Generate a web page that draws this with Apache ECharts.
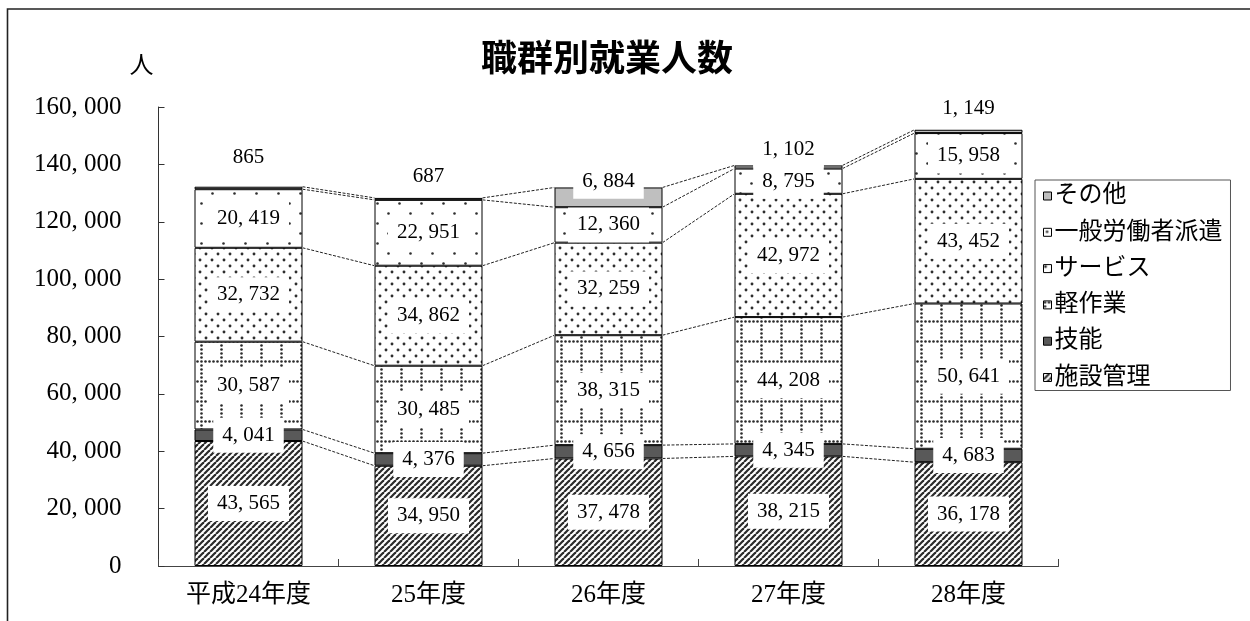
<!DOCTYPE html>
<html><head><meta charset="utf-8">
<script src="https://cdn.jsdelivr.net/npm/echarts@6/dist/echarts.min.js"></script>
<style>html,body{margin:0;padding:0;background:#fff}#c{width:1250px;height:621px}</style>
</head><body><div id="c"></div>
<script>
const categories = ['平成24年度', '25年度', '26年度', '27年度', '28年度'];
const seriesNames = ['施設管理', '技能', '軽作業', 'サービス', '一般労働者派遣', 'その他'];
const shisetsuKanri = [43565, 34950, 37478, 38215, 36178];
const ginou = [4041, 4376, 4656, 4345, 4683];
const keiSagyou = [30587, 30485, 38315, 44208, 50641];
const service = [32732, 34862, 32259, 42972, 43452];
const haken = [20419, 22951, 12360, 8795, 15958];
const sonota = [865, 687, 6884, 1102, 1149];
const legendOrder = ['その他', '一般労働者派遣', 'サービス', '軽作業', '技能', '施設管理'];
const yMin = 0, yMax = 160000, yInterval = 20000;

const SERIF = '"Liberation Serif", "Noto Sans CJK JP", serif';
const CJK = '"Liberation Serif", "Noto Sans CJK JP", sans-serif';
function fmt(v){ return String(v).replace(/\B(?=(\d{3})+(?!\d))/g, ', '); }

function pattern(w, h, draw){
  const c = document.createElement('canvas'); c.width = w; c.height = h;
  const g = c.getContext('2d'); g.fillStyle = '#fff'; g.fillRect(0,0,w,h); draw(g);
  return {image: c, repeat: 'repeat'};
}
function dot(g, x, y, r){ g.beginPath(); g.arc(x, y, r, 0, Math.PI * 2); g.fill(); }
const hatch = pattern(6, 6, g => {
  g.strokeStyle = '#2a2a2a'; g.lineWidth = 2.2;
  for (const k of [-6, 0, 6]) { g.beginPath(); g.moveTo(k, 6); g.lineTo(k + 6, 0); g.stroke(); }
});
const grid = pattern(20, 20, g => {
  g.fillStyle = '#2a2a2a';
  for (let x = 0; x < 20; x += 4) dot(g, x + 1.5, 1.5, 1.3);
  for (let y = 4; y < 20; y += 4) dot(g, 1.5, y + 1.5, 1.3);
});
const dense = pattern(12, 12, g => {
  g.fillStyle = '#2e2e2e'; dot(g, 2, 2, 1.45); dot(g, 8, 8, 1.45);
});
const sparse = pattern(22, 20, g => {
  g.fillStyle = '#2e2e2e'; dot(g, 3.5, 3.5, 1.3); dot(g, 14.5, 13.5, 1.3);
});
const fills = [hatch, '#595959', grid, dense, sparse, '#bfbfbf'];
const values = [shisetsuKanri, ginou, keiSagyou, service, haken, sonota];

const baseLabel = {
  show: true, position: 'inside', formatter: p => fmt(p.value),
  fontFamily: SERIF, fontSize: 21, lineHeight: 21, color: '#000',
  backgroundColor: '#fff', padding: [7, 9]
};
// per-item label placement for その他
const sonotaLabel = [
  {position: 'top', distance: 12},
  {position: 'top', distance: 4},
  {position: 'inside', offset: [0, -16]},
  {position: 'top', distance: -2},
  {position: 'top', distance: 4}
];

const series = seriesNames.map((name, s) => ({
  name, type: 'bar', stack: 'total', barWidth: '60%',
  itemStyle: {color: fills[s], borderColor: '#000', borderWidth: 1},
  label: baseLabel,
  data: values[s].map((v, i) => s === 5 ? {value: v, label: sonotaLabel[i]} : v)
}));

// series lines (connectors) between stacked segment tops
const connData = [];
for (let s = 0; s < values.length; s++) {
  const cum = categories.map((_, i) => values.slice(0, s + 1).reduce((a, arr) => a + arr[i], 0));
  for (let i = 0; i < categories.length - 1; i++) connData.push([i, cum[i], cum[i + 1]]);
}
series.push({
  type: 'custom', name: 'lines', silent: true, z: 1,
  encode: {x: 0, y: 1},
  data: connData,
  renderItem: (params, api) => {
    const i = api.value(0), p1 = api.coord([i, api.value(1)]), p2 = api.coord([i + 1, api.value(2)]);
    const hw = api.size([1, 0])[0] * 0.3;
    return {type: 'line', shape: {x1: p1[0] + hw, y1: p1[1], x2: p2[0] - hw, y2: p2[1]},
      style: {stroke: '#222', lineWidth: 1, lineDash: [3, 1.5]}};
  }
});

const chart = echarts.init(document.getElementById('c'), null, {renderer: 'canvas'});
chart.setOption({
  animation: false,
  grid: {left: 158.5, right: 191.5, top: 107, bottom: 55, containLabel: false},
  legend: {
    data: legendOrder, orient: 'vertical', left: 1035, top: 180,
    icon: 'rect', itemWidth: 8, itemHeight: 8, itemGap: 12.3, padding: [4, 8, 1, 8],
    borderColor: '#555', borderWidth: 1, backgroundColor: '#fff',
    itemStyle: {borderColor: '#000', borderWidth: 1},
    textStyle: {fontFamily: CJK, fontSize: 24, lineHeight: 24, color: '#000', padding: [0, 0, 0, -2]}
  },
  xAxis: {
    type: 'category', data: categories,
    axisLine: {lineStyle: {color: '#444', width: 1}},
    axisTick: {show: true, inside: true, length: 7, lineStyle: {color: '#444'}},
    axisLabel: {fontFamily: CJK, fontSize: 25, color: '#000', margin: 17}
  },
  yAxis: {
    type: 'value', min: yMin, max: yMax, interval: yInterval,
    name: '人', nameLocation: 'end', nameGap: 28,
    nameTextStyle: {fontFamily: CJK, fontSize: 24, color: '#000', align: 'center', padding: [0, 34, 0, 0]},
    axisLine: {show: true, lineStyle: {color: '#333', width: 1}},
    axisTick: {show: true, inside: true, length: 6, lineStyle: {color: '#333'}},
    splitLine: {show: false},
    axisLabel: {fontFamily: SERIF, fontSize: 25, color: '#000', margin: 37, formatter: v => fmt(v)}
  },
  graphic: [
    {type: 'text', x: 607, y: 57, style: {text: '職群別就業人数', fontFamily: '"Noto Sans CJK JP", sans-serif',
      fontWeight: 'bold', fontSize: 36, fill: '#000', align: 'center', verticalAlign: 'middle'}},
    {type: 'polyline', shape: {points: [[7.5, 621], [7.5, 9], [1250, 9]]},
      style: {stroke: '#222', lineWidth: 1.6, fill: null}, silent: true}
  ],
  series
});
</script></body></html>
